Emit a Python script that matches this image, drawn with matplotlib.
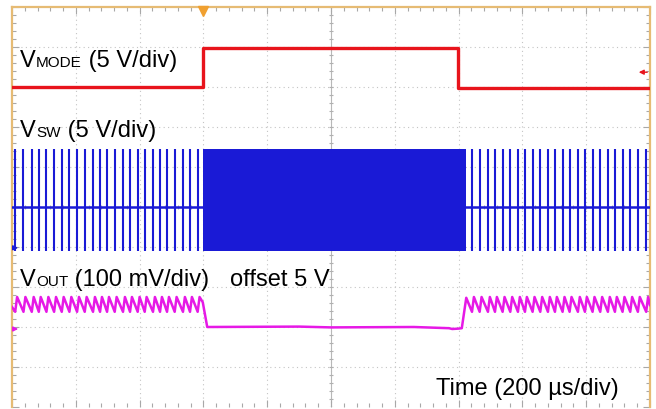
import matplotlib.pyplot as plt
import numpy as np
from matplotlib.ticker import MultipleLocator

plt.rcParams['font.family'] = ['Liberation Sans', 'DejaVu Sans']

# everything below is in scope divisions: x 0..10 (200 us/div), y 0..10 from bottom
# V_MODE (red)
mode_t = [0.0, 2.99, 2.99, 6.99, 6.99, 10.0]
mode_v = [8.0, 8.0, 8.98, 8.98, 7.98, 7.98]

# V_SW (blue): baseline, isolated pulses (PFM) and the dense burst (PWM)
sw_base = 5.0
sw_hi, sw_lo = 6.45, 3.9
sw_pulses_left = [0.05, 0.18, 0.31, 0.42, 0.54, 0.66, 0.78, 0.90, 1.02, 1.14,
                  1.27, 1.38, 1.49, 1.61, 1.74, 1.85, 1.97, 2.08, 2.21, 2.32,
                  2.43, 2.55, 2.68, 2.79, 2.91]
sw_pulses_right = [7.21, 7.33, 7.46, 7.57, 7.69, 7.81, 7.93, 8.04, 8.16, 8.28,
                   8.40, 8.51, 8.63, 8.74, 8.87, 8.98, 9.10, 9.22, 9.34, 9.45,
                   9.57, 9.69, 9.81, 9.94]
sw_burst = (2.99, 7.12)

# V_OUT (magenta): ripple limits in PFM, flat section in PWM
out_hi, out_lo = 2.75, 2.38
out_mid_t = [2.99, 3.06, 4.5, 5.0, 6.3, 6.85, 6.9, 7.0, 7.05, 7.12]
out_mid_v = [2.62, 2.0, 2.01, 1.99, 2.0, 1.97, 1.95, 1.96, 1.97, 2.73]

# channel markers
mode_marker = 8.37
sw_marker = 3.98
out_marker = 1.95
trigger_t = 2.99

red = '#e8141c'
blue = '#1a1ad6'
magenta = '#e619e6'
frame = '#e6bb74'

fig = plt.figure(figsize=(6.56, 4.10), dpi=100)
ax = fig.add_axes([12 / 656, 2 / 410, 638 / 656, 400 / 410])
ax.set_xlim(0, 10)
ax.set_ylim(0, 10)

# graticule
for k in range(1, 10):
    ax.axvline(k, color='#c4c4c4', lw=0.8, ls=(0, (1, 3)), zorder=0)
    ax.axhline(k, color='#c4c4c4', lw=0.8, ls=(0, (1, 3)), zorder=0)
ax.axvline(5, color='#b8b8b8', lw=0.8, zorder=0)
ax.axhline(5, color='#b8b8b8', lw=0.8, zorder=0)
sub = np.arange(0, 10.01, 0.2)
ax.vlines(sub, 4.94, 5.06, color='#b0b0b0', lw=0.8, zorder=0)
ax.hlines(sub, 4.97, 5.03, color='#b0b0b0', lw=0.8, zorder=0)

ax.xaxis.set_major_locator(MultipleLocator(1))
ax.yaxis.set_major_locator(MultipleLocator(1))
ax.xaxis.set_minor_locator(MultipleLocator(0.2))
ax.yaxis.set_minor_locator(MultipleLocator(0.2))
ax.tick_params(which='both', direction='in', top=True, right=True,
               labelbottom=False, labelleft=False, color='#a8a8a8', width=0.8)
ax.tick_params(which='major', length=5)
ax.tick_params(which='minor', length=3)
for s in ['left', 'top', 'right']:
    ax.spines[s].set_color(frame)
    ax.spines[s].set_linewidth(1.6)
ax.spines['bottom'].set_visible(False)

# V_MODE
ax.plot(mode_t, mode_v, color=red, lw=2.4, zorder=3)

# V_SW
ax.plot([0, 10], [sw_base, sw_base], color=blue, lw=1.8, zorder=3)
pulses = sw_pulses_left + sw_pulses_right
ax.vlines(pulses, sw_lo, sw_hi, color=blue, lw=1.5, zorder=3)
ax.fill_between(sw_burst, sw_lo, sw_hi, color=blue, lw=0, zorder=3)

# V_OUT ripple follows each switching pulse: fast rise, slow decay
t_out, v_out = [0.0], [2.5]
for p in sw_pulses_left:
    t_out += [p, p + 0.03]
    v_out += [out_lo, out_hi]
t_out += out_mid_t
v_out += out_mid_v
for p in sw_pulses_right:
    t_out += [p, p + 0.03]
    v_out += [out_lo, out_hi]
t_out.append(10.0)
v_out.append(2.55)
ax.plot(t_out, v_out, color=magenta, lw=1.8, zorder=3)

# channel level markers and trigger marker
ax.annotate('', xy=(9.78, mode_marker), xytext=(10.0, mode_marker),
            arrowprops=dict(arrowstyle='-|>', color=red, lw=1, mutation_scale=7),
            annotation_clip=False)
ax.annotate('', xy=(0.14, sw_marker), xytext=(0.0, sw_marker),
            arrowprops=dict(arrowstyle='-|>', color=blue, lw=1, mutation_scale=7),
            annotation_clip=False)
ax.annotate('', xy=(0.14, out_marker), xytext=(0.0, out_marker),
            arrowprops=dict(arrowstyle='-|>', color=magenta, lw=1, mutation_scale=7),
            annotation_clip=False)
ax.plot([trigger_t], [9.9], marker='v', ms=7, color='#f0a030', clip_on=False,
        zorder=5)

# labels: main letter, smaller caps, rest
renderer = fig.canvas.get_renderer()


def label(x, y, parts):
    for s, size in parts:
        t = ax.text(x, y, s, fontsize=size, va='baseline', ha='left',
                    color='black', zorder=6)
        bb = t.get_window_extent(renderer)
        x = ax.transData.inverted().transform((bb.x1, bb.y0))[0]


big, small = 17, 11
label(0.13, 8.52, [('V', big), ('MODE', small), (' (5 V/div)', big)])
label(0.13, 6.77, [('V', big), ('SW', small), (' (5 V/div)', big)])
label(0.13, 3.05, [('V', big), ('OUT', small), (' (100 mV/div)', big)])
ax.text(3.42, 3.05, 'offset 5 V', fontsize=big, va='baseline', zorder=6)
ax.text(6.65, 0.32, 'Time (200 \u00b5s/div)', fontsize=big, va='baseline', zorder=6)

fig.savefig('out.png', dpi=100)
